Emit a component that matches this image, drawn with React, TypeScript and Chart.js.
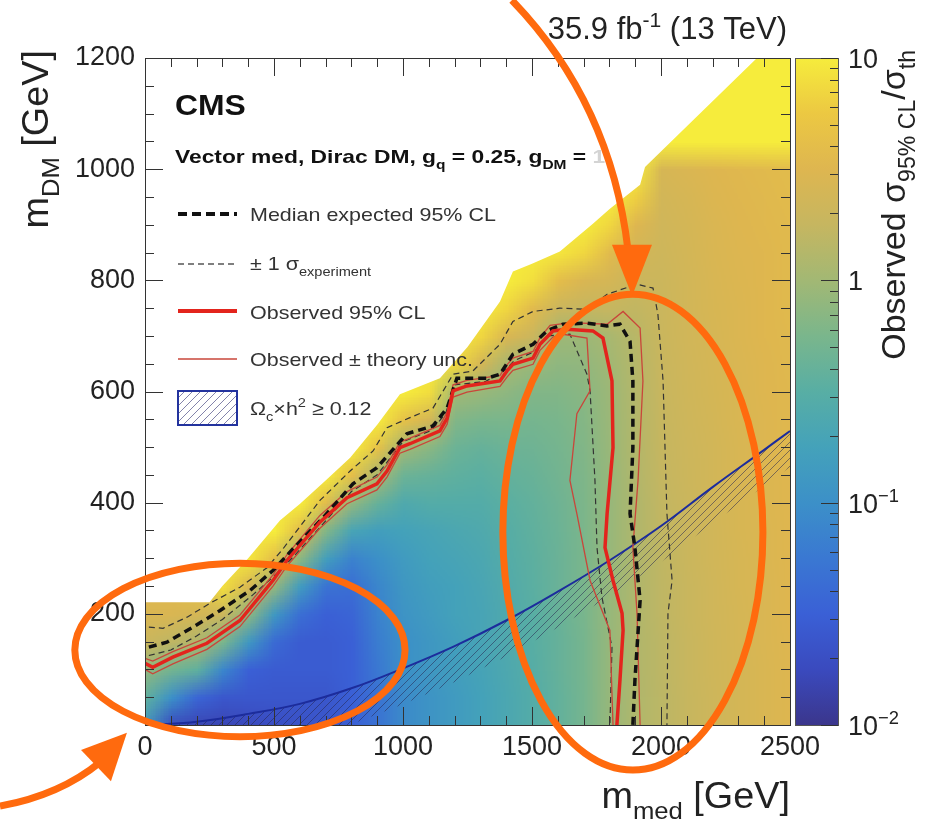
import React, { useEffect, useRef } from "react";
import { Chart, registerables } from "chart.js";

Chart.register(...registerables);

const FONT = "'Liberation Sans', Arial, Helvetica, sans-serif";

// ---------------- axes ----------------
const xTickValues = [0, 500, 1000, 1500, 2000, 2500];
const yTickValues = [200, 400, 600, 800, 1000, 1200];
const colorbarTickValues = [0.01, 0.1, 1, 10];
const colorbarTickBase = ["10", "10", "1", "10"];
const colorbarTickSup = ["\u22122", "\u22121", "", ""];

// ---------------- heat map grid (log10 of observed sigma95/sigma_th) ----------------
const mMedGrid = [0, 100, 200, 300, 400, 500, 600, 700, 800, 900, 1000, 1100, 1200, 1300, 1400, 1500, 1600, 1700, 1800, 1900, 2000, 2100, 2200, 2300, 2400, 2500];
const mDMGrid = [0, 50, 100, 150, 200, 250, 300, 350, 400, 450, 500, 550, 600, 650, 700, 750, 800, 850, 900, 950, 1000, 1050, 1100, 1150, 1200];
// one column per m_med value, values listed from m_DM = 0 up to 1200
const obsLog10ByMed = [
  [-0.9, -0.45, -0.1, 0.3, 0.45, 0.55, 0.6, 1, 1, 1, 1, 1, 1, 1, 1, 1, 1, 1, 1, 1, 1, 1, 1, 1, 1],
  [-1.75, -1.0, -0.3, 0.2, 0.45, 0.55, 0.65, 1, 1, 1, 1, 1, 1, 1, 1, 1, 1, 1, 1, 1, 1, 1, 1, 1, 1],
  [-1.8, -1.45, -0.45, 0.1, 0.4, 0.7, 1, 1, 1, 1, 1, 1, 1, 1, 1, 1, 1, 1, 1, 1, 1, 1, 1, 1, 1],
  [-1.8, -1.6, -1.1, -0.25, 0.3, 0.9, 1, 1, 1, 1, 1, 1, 1, 1, 1, 1, 1, 1, 1, 1, 1, 1, 1, 1, 1],
  [-1.75, -1.6, -1.5, -0.9, -0.15, 0.45, 0.95, 1, 1, 1, 1, 1, 1, 1, 1, 1, 1, 1, 1, 1, 1, 1, 1, 1, 1],
  [-1.7, -1.6, -1.55, -1.4, -0.9, -0.1, 0.6, 1, 1, 1, 1, 1, 1, 1, 1, 1, 1, 1, 1, 1, 1, 1, 1, 1, 1],
  [-1.65, -1.6, -1.55, -1.55, -1.35, -0.85, -0.15, 0.55, 1, 1, 1, 1, 1, 1, 1, 1, 1, 1, 1, 1, 1, 1, 1, 1, 1],
  [-1.6, -1.6, -1.55, -1.55, -1.5, -1.3, -0.8, -0.2, 0.55, 1, 1, 1, 1, 1, 1, 1, 1, 1, 1, 1, 1, 1, 1, 1, 1],
  [-1.5, -1.5, -1.5, -1.5, -1.45, -1.35, -1.15, -0.7, -0.1, 0.6, 1, 1, 1, 1, 1, 1, 1, 1, 1, 1, 1, 1, 1, 1, 1],
  [-1.3, -1.3, -1.25, -1.2, -1.15, -1.1, -1.0, -0.8, -0.4, 0.05, 0.65, 1, 1, 1, 1, 1, 1, 1, 1, 1, 1, 1, 1, 1, 1],
  [-1.05, -1.05, -1.0, -1.0, -0.95, -0.9, -0.85, -0.75, -0.6, -0.35, 0.0, 0.65, 1, 1, 1, 1, 1, 1, 1, 1, 1, 1, 1, 1, 1],
  [-0.95, -0.95, -0.9, -0.9, -0.85, -0.8, -0.75, -0.7, -0.55, -0.4, -0.15, 0.4, 0.9, 1, 1, 1, 1, 1, 1, 1, 1, 1, 1, 1, 1],
  [-0.85, -0.85, -0.8, -0.8, -0.75, -0.75, -0.7, -0.65, -0.55, -0.45, -0.35, -0.2, 0.0, 0.85, 1, 1, 1, 1, 1, 1, 1, 1, 1, 1, 1],
  [-0.75, -0.75, -0.72, -0.7, -0.7, -0.68, -0.65, -0.6, -0.55, -0.48, -0.4, -0.25, -0.05, 0.4, 0.85, 1, 1, 1, 1, 1, 1, 1, 1, 1, 1],
  [-0.65, -0.65, -0.62, -0.6, -0.6, -0.58, -0.55, -0.52, -0.48, -0.42, -0.35, -0.25, -0.12, 0.05, 0.45, 0.85, 1, 1, 1, 1, 1, 1, 1, 1, 1],
  [-0.55, -0.55, -0.52, -0.5, -0.5, -0.48, -0.46, -0.44, -0.42, -0.38, -0.33, -0.28, -0.2, -0.05, 0.3, 0.55, 0.9, 1, 1, 1, 1, 1, 1, 1, 1],
  [-0.42, -0.42, -0.4, -0.4, -0.38, -0.37, -0.36, -0.35, -0.33, -0.3, -0.28, -0.25, -0.2, -0.12, -0.02, 0.3, 0.6, 0.95, 1, 1, 1, 1, 1, 1, 1],
  [-0.28, -0.28, -0.27, -0.27, -0.26, -0.25, -0.25, -0.24, -0.23, -0.22, -0.2, -0.18, -0.15, -0.1, -0.03, 0.25, 0.45, 0.85, 1, 1, 1, 1, 1, 1, 1],
  [-0.06, -0.06, -0.06, -0.06, -0.06, -0.06, -0.06, -0.06, -0.06, -0.06, -0.05, -0.04, -0.03, 0.0, 0.05, 0.25, 0.4, 0.55, 0.85, 1, 1, 1, 1, 1, 1],
  [0.1, 0.1, 0.1, 0.1, 0.1, 0.1, 0.1, 0.1, 0.1, 0.11, 0.12, 0.12, 0.13, 0.14, 0.16, 0.22, 0.3, 0.38, 0.5, 0.8, 1, 1, 1, 1, 1],
  [0.18, 0.18, 0.19, 0.19, 0.2, 0.2, 0.21, 0.22, 0.23, 0.24, 0.25, 0.26, 0.27, 0.28, 0.29, 0.3, 0.31, 0.33, 0.35, 0.38, 0.42, 1, 1, 1, 1],
  [0.26, 0.26, 0.27, 0.27, 0.28, 0.28, 0.29, 0.3, 0.3, 0.31, 0.32, 0.33, 0.34, 0.35, 0.36, 0.37, 0.38, 0.39, 0.4, 0.42, 0.46, 1, 1, 1, 1],
  [0.33, 0.33, 0.34, 0.34, 0.35, 0.35, 0.36, 0.36, 0.37, 0.38, 0.38, 0.39, 0.4, 0.41, 0.42, 0.43, 0.44, 0.45, 0.46, 0.48, 0.5, 1, 1, 1, 1],
  [0.4, 0.4, 0.4, 0.41, 0.41, 0.42, 0.42, 0.43, 0.43, 0.44, 0.44, 0.45, 0.45, 0.46, 0.47, 0.47, 0.48, 0.49, 0.5, 0.51, 0.53, 1, 1, 1, 1],
  [0.45, 0.45, 0.45, 0.46, 0.46, 0.46, 0.47, 0.47, 0.48, 0.48, 0.49, 0.49, 0.5, 0.5, 0.51, 0.51, 0.52, 0.52, 0.53, 0.54, 0.56, 1, 1, 1, 1],
  [0.5, 0.5, 0.5, 0.5, 0.51, 0.51, 0.51, 0.52, 0.52, 0.52, 0.53, 0.53, 0.53, 0.54, 0.54, 0.55, 0.55, 0.56, 0.56, 0.57, 0.58, 1, 1, 1, 1],
];

// upper edge of the scanned region (m_med, m_DM)
const scanEdge = [[0, 221], [250, 221], [300, 250], [400, 300], [523, 368], [601, 398], [700, 440], [795, 481], [900, 540], [988, 595], [1143, 624], [1250, 680], [1376, 762], [1426, 816], [1500, 830], [1608, 852], [1736, 902], [1802, 929], [1919, 972], [1938, 1004], [2372, 1200]];

// ---------------- contours (m_med, m_DM) ----------------
const observedLimit = [[0, 111], [30, 104], [108, 122], [240, 147], [368, 188], [496, 260], [550, 296], [678, 365], [783, 409], [899, 434], [938, 457], [988, 499], [1027, 506], [1143, 529], [1171, 552], [1194, 601], [1248, 610], [1376, 619], [1403, 637], [1426, 649], [1504, 660], [1531, 685], [1581, 709], [1636, 712], [1736, 709], [1775, 696], [1810, 619], [1814, 499], [1791, 380], [1783, 319], [1814, 260], [1849, 201], [1853, 170], [1841, 81], [1829, 0]];
const theoryUpper = [[0, 120], [30, 115], [108, 132], [240, 157], [368, 198], [496, 270], [550, 306], [678, 377], [783, 420], [899, 446], [938, 468], [988, 509], [1027, 516], [1143, 539], [1171, 563], [1194, 612], [1248, 620], [1376, 629], [1403, 648], [1426, 660], [1504, 672], [1531, 697], [1570, 719], [1650, 724], [1791, 721], [1853, 744], [1919, 714], [1930, 619], [1911, 440], [1891, 319], [1907, 201], [1919, 0]];
const theoryLower = [[0, 100], [30, 92], [108, 110], [240, 136], [368, 177], [496, 250], [550, 286], [678, 354], [783, 398], [899, 423], [938, 446], [988, 489], [1027, 496], [1143, 519], [1171, 541], [1194, 590], [1248, 599], [1376, 609], [1403, 626], [1426, 638], [1504, 649], [1531, 674], [1581, 698], [1620, 703], [1713, 696], [1725, 601], [1674, 560], [1647, 440], [1674, 380], [1725, 260], [1802, 170], [1814, 0]];
const expectedLimit = [[15, 140], [85, 149], [186, 176], [291, 206], [407, 242], [496, 278], [574, 317], [690, 373], [806, 434], [899, 463], [1015, 524], [1116, 538], [1171, 570], [1209, 624], [1326, 624], [1376, 631], [1426, 667], [1504, 685], [1558, 709], [1620, 721], [1713, 723], [1790, 718], [1841, 721], [1880, 690], [1891, 619], [1891, 499], [1880, 380], [1899, 319], [1919, 224], [1899, 81], [1891, 0]];
const expectedUpper = [[15, 176], [70, 174], [163, 194], [252, 219], [368, 248], [473, 283], [535, 317], [678, 404], [795, 457], [884, 493], [938, 535], [1027, 553], [1116, 570], [1194, 631], [1271, 637], [1376, 685], [1426, 726], [1504, 744], [1608, 750], [1713, 748], [1791, 775], [1907, 793], [1969, 786], [1988, 739], [2008, 619], [2023, 380], [2043, 260], [2027, 201], [2023, 0]];
const expectedLower = [[15, 125], [100, 135], [200, 160], [300, 190], [420, 235], [500, 268], [580, 305], [690, 362], [800, 420], [900, 450], [1000, 510], [1110, 530], [1165, 560], [1200, 612], [1320, 618], [1400, 640], [1430, 655], [1510, 672], [1560, 700], [1647, 703], [1713, 631], [1725, 601], [1744, 440], [1752, 319], [1771, 230], [1810, 140], [1802, 0]];
const relicCurve = [[20, 0], [200, 6], [400, 20], [600, 38], [800, 66], [1000, 102], [1200, 142], [1400, 188], [1600, 240], [1800, 296], [2000, 358], [2200, 428], [2400, 495], [2500, 529]];

// ---------------- annotation shapes (in axis units) ----------------
const ellipseLeft = { cx: 368, cy: 135, rx: 640, ry: 156 };
const ellipseRight = { cx: 1891, cy: 347, rx: 504, ry: 428 };
const arrowLeft = { start: [-562, -146], ctrl: [-329, -126], end: [-174, -67], tip: [-70, -14], c1: [-248, -45], c2: [-132, -101] };
const arrowRight = { start: [1422, 1304], c1: [1647, 1196], c2: [1822, 1053], end: [1872, 855], tip: [1888, 772], h1: [1810, 864], h2: [1965, 864] };

// ---------------- palette (style) ----------------
const heatStops: [number, number[]][] = [
  [-2.0, [59, 54, 140]],
  [-1.75, [58, 74, 190]],
  [-1.5, [58, 96, 214]],
  [-1.25, [58, 120, 210]],
  [-1.0, [60, 144, 200]],
  [-0.75, [68, 162, 186]],
  [-0.5, [88, 174, 164]],
  [-0.25, [122, 182, 140]],
  [0.0, [162, 184, 116]],
  [0.25, [198, 182, 96]],
  [0.5, [222, 182, 80]],
  [0.75, [236, 200, 66]],
  [1.0, [246, 236, 60]],
];

function colorFor(v: number): number[] {
  if (!(v > heatStops[0][0])) return heatStops[0][1];
  for (let k = 1; k < heatStops.length; k++) {
    if (v <= heatStops[k][0]) {
      const [a, ca] = heatStops[k - 1];
      const [b, cb] = heatStops[k];
      const t = (v - a) / (b - a);
      return ca.map((c, i) => Math.round(c + (cb[i] - c) * t));
    }
  }
  return heatStops[heatStops.length - 1][1];
}

type Seg = { t: string; k?: "sub" | "sup" };

function drawRich(ctx: any, segs: Seg[], x: number, y: number, size: number, o: any = {}) {
  const weight = o.weight || "normal";
  const sx = o.sx || 1;
  const fontOf = (s: Seg) => `${weight} ${s.k ? size * 0.68 : size}px ${FONT}`;
  let w = 0;
  ctx.save();
  for (const s of segs) {
    ctx.font = fontOf(s);
    w += ctx.measureText(s.t).width;
  }
  ctx.translate(x, y);
  if (o.rot) ctx.rotate(o.rot);
  ctx.scale(sx, 1);
  ctx.fillStyle = o.color || "#222";
  ctx.textBaseline = "alphabetic";
  ctx.textAlign = "left";
  let cx = o.align === "right" ? -w : o.align === "center" ? -w / 2 : 0;
  for (const s of segs) {
    ctx.font = fontOf(s);
    const dy = s.k === "sub" ? size * 0.3 : s.k === "sup" ? -size * 0.4 : 0;
    ctx.fillText(s.t, cx, dy);
    cx += ctx.measureText(s.t).width;
  }
  ctx.restore();
  return x + cx * sx;
}

function makeHatch(ctx: any, spacing: number, color: string, lw: number) {
  const c = document.createElement("canvas");
  c.width = spacing;
  c.height = spacing;
  const g = c.getContext("2d")!;
  g.strokeStyle = color;
  g.lineWidth = lw;
  g.beginPath();
  g.moveTo(-1, spacing + 1);
  g.lineTo(spacing + 1, -1);
  g.moveTo(-1, 1);
  g.lineTo(1, -1);
  g.moveTo(spacing - 1, spacing + 1);
  g.lineTo(spacing + 1, spacing - 1);
  g.stroke();
  return ctx.createPattern(c, "repeat");
}

const heatPlugin = {
  id: "heatLayer",
  beforeDatasetsDraw(chart: any) {
    const { ctx, chartArea: ca, scales } = chart;
    const xs = scales.x;
    const ys = scales.y;

    // header texts (below the map)
    drawRich(ctx, [{ t: "CMS" }], 175, 115, 29, { weight: "bold", color: "#111", sx: 1.1 });
    const endX = drawRich(
      ctx,
      [{ t: "Vector med, Dirac DM, g" }, { t: "q", k: "sub" }, { t: " = 0.25, g" }, { t: "DM", k: "sub" }, { t: " = " }],
      175, 163, 19, { weight: "bold", color: "#111", sx: 1.2 }
    );
    drawRich(ctx, [{ t: "1" }], endX, 163, 19, { weight: "bold", color: "#d4d4d4", sx: 1.2 });

    // heat map image
    const nx = mMedGrid.length;
    const ny = mDMGrid.length;
    const off = document.createElement("canvas");
    off.width = nx;
    off.height = ny;
    const octx = off.getContext("2d")!;
    const img = octx.createImageData(nx, ny);
    for (let i = 0; i < nx; i++) {
      for (let j = 0; j < ny; j++) {
        const v = obsLog10ByMed[i] && obsLog10ByMed[i][j] !== undefined ? obsLog10ByMed[i][j] : 1;
        const c = colorFor(v);
        const idx = ((ny - 1 - j) * nx + i) * 4;
        img.data[idx] = c[0];
        img.data[idx + 1] = c[1];
        img.data[idx + 2] = c[2];
        img.data[idx + 3] = 255;
      }
    }
    octx.putImageData(img, 0, 0);

    ctx.save();
    ctx.beginPath();
    ctx.rect(ca.left, ca.top, ca.right - ca.left, ca.bottom - ca.top);
    ctx.clip();
    ctx.beginPath();
    ctx.moveTo(xs.getPixelForValue(0), ys.getPixelForValue(0));
    scanEdge.forEach(([a, b]) => ctx.lineTo(xs.getPixelForValue(a), ys.getPixelForValue(b)));
    ctx.lineTo(xs.getPixelForValue(2500), ys.getPixelForValue(1200));
    ctx.lineTo(xs.getPixelForValue(2500), ys.getPixelForValue(0));
    ctx.closePath();
    ctx.clip();
    ctx.imageSmoothingEnabled = true;
    ctx.imageSmoothingQuality = "low";
    const hx = (mMedGrid[1] - mMedGrid[0]) / 2;
    const hy = (mDMGrid[1] - mDMGrid[0]) / 2;
    const x0 = xs.getPixelForValue(mMedGrid[0] - hx);
    const x1 = xs.getPixelForValue(mMedGrid[nx - 1] + hx);
    const yT = ys.getPixelForValue(mDMGrid[ny - 1] + hy);
    const yB = ys.getPixelForValue(mDMGrid[0] - hy);
    ctx.drawImage(off, x0, yT, x1 - x0, yB - yT);
    ctx.restore();

    // relic-density hatched band below the curve
    ctx.save();
    ctx.beginPath();
    ctx.rect(ca.left, ca.top, ca.right - ca.left, ca.bottom - ca.top);
    ctx.clip();
    const pts = relicCurve.map(([a, b]) => [xs.getPixelForValue(a), ys.getPixelForValue(b)]);
    ctx.beginPath();
    pts.forEach((p, i) => (i ? ctx.lineTo(p[0], p[1]) : ctx.moveTo(p[0], p[1])));
    for (let i = pts.length - 1; i >= 0; i--) ctx.lineTo(pts[i][0], pts[i][1] + 36);
    ctx.closePath();
    ctx.fillStyle = makeHatch(ctx, 8, "rgba(40,40,80,0.6)", 0.9);
    ctx.fill();
    ctx.restore();
  },
};

function seg(ctx: any, x0: number, y0: number, x1: number, y1: number, color: string, lw: number, dash: number[]) {
  ctx.save();
  ctx.strokeStyle = color;
  ctx.lineWidth = lw;
  ctx.setLineDash(dash);
  ctx.beginPath();
  ctx.moveTo(x0, y0);
  ctx.lineTo(x1, y1);
  ctx.stroke();
  ctx.restore();
}

const overlayPlugin = {
  id: "overlayLayer",
  afterDatasetsDraw(chart: any) {
    const { ctx, chartArea: ca, scales } = chart;
    const xs = scales.x;
    const ys = scales.y;
    const y2 = scales.y2;

    // frame + inner ticks
    ctx.save();
    ctx.strokeStyle = "#333";
    ctx.lineWidth = 1;
    ctx.beginPath();
    for (let v = 0; v <= 2500; v += 100) {
      const px = Math.round(xs.getPixelForValue(v)) + 0.5;
      const len = v % 500 === 0 ? 18 : 9;
      ctx.moveTo(px, ca.bottom);
      ctx.lineTo(px, ca.bottom - len);
      ctx.moveTo(px, ca.top);
      ctx.lineTo(px, ca.top + len);
    }
    for (let v = 0; v <= 1200; v += 50) {
      const py = Math.round(ys.getPixelForValue(v)) + 0.5;
      const len = v % 200 === 0 ? 18 : 9;
      ctx.moveTo(ca.left, py);
      ctx.lineTo(ca.left + len, py);
      ctx.moveTo(ca.right, py);
      ctx.lineTo(ca.right - len, py);
    }
    ctx.stroke();
    ctx.strokeRect(Math.round(ca.left) + 0.5, Math.round(ca.top) + 0.5, Math.round(ca.right - ca.left), Math.round(ca.bottom - ca.top));
    ctx.restore();

    // colour bar
    const cbL = 795;
    const cbR = 838;
    const yTop = y2.getPixelForValue(10);
    const yBot = y2.getPixelForValue(0.01);
    const grad = ctx.createLinearGradient(0, yBot, 0, yTop);
    heatStops.forEach(([v, c]) => grad.addColorStop((v + 2) / 3, `rgb(${c[0]},${c[1]},${c[2]})`));
    ctx.save();
    ctx.fillStyle = grad;
    ctx.fillRect(cbL, yTop, cbR - cbL, yBot - yTop);
    ctx.strokeStyle = "#555";
    ctx.lineWidth = 1;
    ctx.strokeRect(cbL + 0.5, yTop + 0.5, cbR - cbL, yBot - yTop);
    ctx.strokeStyle = "#333";
    ctx.beginPath();
    for (const d of [-2, -1, 0]) {
      for (let m = 1; m <= 9; m++) {
        const v = m * Math.pow(10, d);
        const py = Math.round(y2.getPixelForValue(v)) + 0.5;
        const len = m === 1 ? 17 : 8;
        ctx.moveTo(cbR, py);
        ctx.lineTo(cbR - len, py);
      }
    }
    ctx.moveTo(cbR, Math.round(yTop) + 0.5);
    ctx.lineTo(cbR - 17, Math.round(yTop) + 0.5);
    ctx.stroke();
    ctx.restore();
    colorbarTickValues.forEach((v, i) => {
      const py = y2.getPixelForValue(v);
      const segs: Seg[] = [{ t: colorbarTickBase[i] }];
      if (colorbarTickSup[i]) segs.push({ t: colorbarTickSup[i], k: "sup" });
      drawRich(ctx, segs, 848, py + 10, 27, { color: "#222" });
    });

    // legend
    const lx0 = 178;
    const lx1 = 237;
    const tx = 250;
    seg(ctx, lx0, 214, lx1, 214, "#111", 4, [9, 5]);
    seg(ctx, lx0, 264, lx1, 264, "#555", 1.3, [6, 4]);
    seg(ctx, lx0, 311, lx1, 311, "#e3241d", 4, []);
    seg(ctx, lx0, 359, lx1, 359, "#c9463a", 1.5, []);
    ctx.save();
    ctx.fillStyle = makeHatch(ctx, 8, "rgba(70,70,130,0.75)", 0.9);
    ctx.fillRect(lx0, 391, lx1 - lx0, 34);
    ctx.strokeStyle = "#23339e";
    ctx.lineWidth = 2;
    ctx.strokeRect(lx0, 391, lx1 - lx0, 34);
    ctx.restore();
    const lo = { color: "#333", sx: 1.13 };
    drawRich(ctx, [{ t: "Median expected 95% CL" }], tx, 221, 19, lo);
    drawRich(ctx, [{ t: "\u00b1 1 \u03c3" }, { t: "experiment", k: "sub" }], tx, 270, 19, lo);
    drawRich(ctx, [{ t: "Observed 95% CL" }], tx, 319, 19, lo);
    drawRich(ctx, [{ t: "Observed \u00b1 theory unc." }], tx, 366, 19, lo);
    drawRich(ctx, [{ t: "\u03a9" }, { t: "c", k: "sub" }, { t: "\u00d7h" }, { t: "2", k: "sup" }, { t: " \u2265 0.12" }], tx, 415, 19, lo);
  },
  afterDraw(chart: any) {
    const { ctx, scales } = chart;
    const xs = scales.x;
    const ys = scales.y;
    const P = (p: number[]) => [xs.getPixelForValue(p[0]), ys.getPixelForValue(p[1])];

    // titles
    drawRich(ctx, [{ t: "35.9 fb" }, { t: "-1", k: "sup" }, { t: " (13 TeV)" }], 787, 39, 31, { align: "right", color: "#222" });
    drawRich(ctx, [{ t: "m" }, { t: "med", k: "sub" }, { t: " [GeV]" }], 790, 808, 36, { align: "right", color: "#222", sx: 1.05 });
    drawRich(ctx, [{ t: "m" }, { t: "DM", k: "sub" }, { t: " [GeV]" }], 48, 50, 36, { align: "right", color: "#222", sx: 1.05, rot: -Math.PI / 2 });
    drawRich(ctx, [{ t: "Observed \u03c3" }, { t: "95% CL", k: "sub" }, { t: "/\u03c3" }, { t: "th", k: "sub" }], 905, 50, 34, { align: "right", color: "#222", rot: -Math.PI / 2 });

    // orange annotations
    ctx.save();
    const orange = "#ff6a0e";
    ctx.strokeStyle = orange;
    ctx.fillStyle = orange;
    ctx.lineWidth = 7;
    for (const e of [ellipseLeft, ellipseRight]) {
      const [cx, cy] = P([e.cx, e.cy]);
      const rx = Math.abs(xs.getPixelForValue(e.cx + e.rx) - cx);
      const ry = Math.abs(ys.getPixelForValue(e.cy + e.ry) - cy);
      ctx.beginPath();
      ctx.ellipse(cx, cy, rx, ry, 0, 0, Math.PI * 2);
      ctx.stroke();
    }
    {
      const s = P(arrowLeft.start), c = P(arrowLeft.ctrl), e = P(arrowLeft.end);
      ctx.beginPath();
      ctx.moveTo(s[0], s[1]);
      ctx.quadraticCurveTo(c[0], c[1], e[0], e[1]);
      ctx.stroke();
      const t = P(arrowLeft.tip), a = P(arrowLeft.c1), b = P(arrowLeft.c2);
      ctx.beginPath();
      ctx.moveTo(t[0], t[1]);
      ctx.lineTo(a[0], a[1]);
      ctx.lineTo(b[0], b[1]);
      ctx.closePath();
      ctx.fill();
    }
    {
      const s = P(arrowRight.start), c1 = P(arrowRight.c1), c2 = P(arrowRight.c2), e = P(arrowRight.end);
      ctx.beginPath();
      ctx.moveTo(s[0], s[1]);
      ctx.bezierCurveTo(c1[0], c1[1], c2[0], c2[1], e[0], e[1]);
      ctx.stroke();
      const t = P(arrowRight.tip), a = P(arrowRight.h1), b = P(arrowRight.h2);
      ctx.beginPath();
      ctx.moveTo(t[0], t[1]);
      ctx.lineTo(a[0], a[1]);
      ctx.lineTo(b[0], b[1]);
      ctx.closePath();
      ctx.fill();
    }
    ctx.restore();
  },
};

const toXY = (arr: number[][]) => arr.map(([x, y]) => ({ x, y }));

function lineSet(label: string, arr: number[][], color: string, width: number, dash: number[], tension = 0) {
  return {
    type: "scatter",
    label,
    data: toXY(arr),
    showLine: true,
    borderColor: color,
    backgroundColor: color,
    borderWidth: width,
    borderDash: dash,
    pointRadius: 0,
    pointHoverRadius: 0,
    tension,
    fill: false,
  };
}

export default function App() {
  const ref = useRef<HTMLCanvasElement>(null);

  useEffect(() => {
    Chart.defaults.font.family = FONT;
    const chart = new Chart(ref.current as HTMLCanvasElement, {
      type: "scatter",
      data: {
        datasets: [
          lineSet("Observed 95% CL", observedLimit, "#e3241d", 3.5, []),
          lineSet("Median expected 95% CL", expectedLimit, "#111111", 3.5, [8, 5]),
          lineSet("Observed + theory unc.", theoryUpper, "#c9463a", 1.3, []),
          lineSet("Observed - theory unc.", theoryLower, "#c9463a", 1.3, []),
          lineSet("+1 sigma experiment", expectedUpper, "#333333", 1.2, [6, 4]),
          lineSet("-1 sigma experiment", expectedLower, "#333333", 1.2, [6, 4]),
          lineSet("Omega_c h^2 = 0.12", relicCurve, "#1c2c9c", 2, [], 0.4),
        ] as any,
      },
      options: {
        responsive: true,
        maintainAspectRatio: false,
        animation: false,
        events: [],
        layout: { padding: { top: 58, left: 0, right: 0, bottom: 0 } },
        plugins: {
          legend: { display: false },
          tooltip: { enabled: false },
          title: { display: false },
        },
        scales: {
          x: {
            type: "linear",
            position: "bottom",
            min: 0,
            max: 2500,
            grid: { display: false, drawTicks: false },
            border: { display: false },
            ticks: {
              font: { size: 27, family: FONT },
              color: "#222",
              padding: 6,
              maxRotation: 0,
              autoSkip: false,
              callback: (v: any) => String(v),
            },
            afterBuildTicks: (s: any) => {
              s.ticks = xTickValues.map((v) => ({ value: v }));
            },
            afterFit: (s: any) => {
              s.height = 102;
            },
          },
          y: {
            type: "linear",
            position: "left",
            min: 0,
            max: 1200,
            grid: { display: false, drawTicks: false },
            border: { display: false },
            ticks: {
              font: { size: 27, family: FONT },
              color: "#222",
              padding: 10,
              autoSkip: false,
              callback: (v: any) => String(v),
            },
            afterBuildTicks: (s: any) => {
              s.ticks = yTickValues.map((v) => ({ value: v }));
            },
            afterFit: (s: any) => {
              s.width = 145;
            },
          },
          y2: {
            type: "logarithmic",
            position: "right",
            min: 0.01,
            max: 10,
            grid: { display: false, drawTicks: false },
            border: { display: false },
            ticks: { display: false },
            afterFit: (s: any) => {
              s.width = 140;
            },
          },
        },
      } as any,
      plugins: [heatPlugin, overlayPlugin],
    });
    return () => chart.destroy();
  }, []);

  return (
    <div style={{ position: "fixed", left: 0, top: 0, width: 930, height: 827, background: "#fff" }}>
      <canvas ref={ref} />
    </div>
  );
}
